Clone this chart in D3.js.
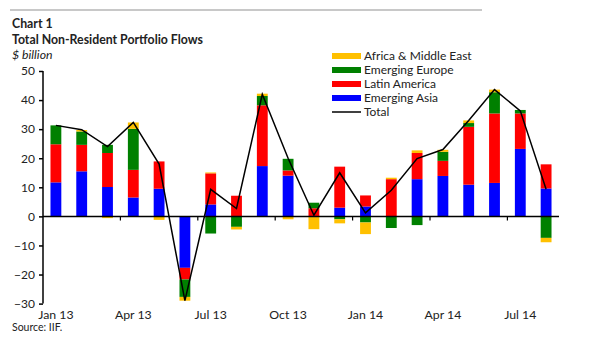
<!DOCTYPE html>
<head>
  <meta charset="utf-8">
  <script src="https://d3js.org/d3.v7.min.js"></script>
  <style>
    body { margin: 0; background: #fff; }
    text { font-family: Lato, "Open Sans", sans-serif; fill: #222; }
  </style>
</head>

<body>
  <svg width="600" height="340"></svg>

  <script>

  // month categories and tick labels
  var months = ["Jan 13","Feb 13","Mar 13","Apr 13","May 13","Jun 13","Jul 13","Aug 13","Sep 13","Oct 13",
    "Nov 13","Dec 13","Jan 14","Feb 14","Mar 14","Apr 14","May 14","Jun 14","Jul 14","Aug 14"];
  var tickMonths = ["Jan 13","Apr 13","Jul 13","Oct 13","Jan 14","Apr 14","Jul 14"];

  // $ billion
  var asia   = [11.7, 15.5, 10.1, 6.5, 9.5, -17.7, 4.1, 0, 17.3, 14.0, 0, 3.0, 3.4, 0, 12.8, 13.9, 10.9, 11.5, 23.2, 9.6];
  var latam  = [13.1, 9.1, 11.7, 9.5, 9.4, -4.0, 10.7, 7.1, 20.9, 1.8, 2.8, 14.1, 3.8, 12.8, 9.0, 5.2, 19.9, 23.9, 12.2, 8.3];
  var europe = [6.5, 4.6, 2.8, 14.1, 0, -6.0, -5.9, -3.6, 3.2, 4.0, 1.9, -1.0, -2.1, -4.0, -3.0, 3.1, 1.3, 7.3, 1.2, -7.4];
  var africa = [0, 0.5, -0.6, 2.2, -1.2, -1.3, 0.3, -0.9, 0.8, -1.0, -4.4, -1.4, -4.0, 0.5, 0.9, 0.7, 0.9, 0.9, 0, -1.5];
  var total  = [31.3, 29.8, 24.0, 32.3, 18.0, -29.0, 9.3, 2.7, 42.0, 20.0, 0.4, 15.0, 1.2, 9.0, 19.9, 23.0, 33.0, 43.6, 36.3, 9.3];

  var seriesKeys = ["asia", "latam", "europe", "africa"];
  var seriesNames = { africa: "Africa & Middle East", europe: "Emerging Europe", latam: "Latin America", asia: "Emerging Asia" };
  var color = { africa: "#ffc000", europe: "#008000", latam: "#ff0000", asia: "#0000ff" };

  var rows = months.map(function(m, i) {
    return { month: m, asia: asia[i], latam: latam[i], europe: europe[i], africa: africa[i], total: total[i] };
  });

  var svg = d3.select("svg");

  var x = d3.scaleBand()
    .domain(months)
    .range([43, 559])
    .paddingInner(0.58)
    .paddingOuter(0.29);

  var y = d3.scaleLinear()
    .domain([-30, 50])
    .range([303.6, 71]);

  // top rule
  svg.append("line")
    .attr("x1", 10).attr("x2", 482)
    .attr("y1", 10).attr("y2", 10)
    .attr("stroke", "#c8c8c8")
    .attr("stroke-width", 2);

  // titles
  svg.append("text").attr("x", 12).attr("y", 28)
    .style("font-size", "12.3px").style("font-weight", "bold").text("Chart 1");
  svg.append("text").attr("x", 12).attr("y", 43.5)
    .style("font-size", "12.3px").style("font-weight", "bold").text("Total Non-Resident Portfolio Flows");
  svg.append("text").attr("x", 12).attr("y", 59)
    .style("font-size", "12.3px").style("font-style", "italic").text("$ billion");

  // stacked bars
  var stack = d3.stack()
    .keys(seriesKeys)
    .offset(d3.stackOffsetDiverging);

  var layers = svg.append("g")
    .selectAll("g")
    .data(stack(rows))
    .enter().append("g")
    .attr("fill", function(d) { return color[d.key]; });

  layers.selectAll("rect")
    .data(function(d) { return d; })
    .enter().append("rect")
    .attr("x", function(d) { return x(d.data.month); })
    .attr("width", x.bandwidth())
    .attr("y", function(d) { return y(Math.max(d[0], d[1])); })
    .attr("height", function(d) { return Math.abs(y(d[0]) - y(d[1])); });

  // y axis
  var yAxis = svg.append("g")
    .attr("transform", "translate(43,0)")
    .call(d3.axisLeft(y).tickValues(d3.range(-30, 51, 10)).tickSize(4).tickPadding(4));
  yAxis.select(".domain").attr("stroke", "#000").attr("stroke-width", 1.5).attr("d", "M0," + y(-30) + "V" + y(50));
  yAxis.selectAll(".tick line").attr("stroke", "#000").attr("stroke-width", 1.5);
  yAxis.selectAll(".tick text")
    .style("font-family", "Lato, sans-serif").style("font-size", "12px").attr("fill", "#222");

  // zero line
  svg.append("line")
    .attr("x1", 43).attr("x2", 559)
    .attr("y1", y(0)).attr("y2", y(0))
    .attr("stroke", "#000")
    .attr("stroke-width", 1.5);

  // quarter ticks on the zero line
  var half = (x.step() - x.bandwidth()) / 2;
  svg.append("g").selectAll("line")
    .data(["Apr 13","Jul 13","Oct 13","Jan 14","Apr 14","Jul 14"])
    .enter().append("line")
    .attr("x1", function(d) { return x(d) - half; })
    .attr("x2", function(d) { return x(d) - half; })
    .attr("y1", y(0)).attr("y2", y(0) + 4)
    .attr("stroke", "#000")
    .attr("stroke-width", 1.2);

  // x labels
  svg.append("g").selectAll("text")
    .data(tickMonths)
    .enter().append("text")
    .attr("x", function(d) { return x(d) + x.bandwidth() / 2; })
    .attr("y", 319)
    .attr("text-anchor", "middle")
    .style("font-size", "12.3px")
    .text(function(d) { return d; });

  // total line
  var line = d3.line()
    .x(function(d) { return x(d.month) + x.bandwidth() / 2; })
    .y(function(d) { return y(d.total); });

  svg.append("path")
    .datum(rows)
    .attr("fill", "none")
    .attr("stroke", "#000")
    .attr("stroke-width", 1.5)
    .attr("d", line);

  // legend
  var legendKeys = ["africa", "europe", "latam", "asia"];
  var legend = svg.append("g").selectAll("g")
    .data(legendKeys.concat(["total"]))
    .enter().append("g")
    .attr("transform", function(d, i) { return "translate(332," + (56 + i * 14) + ")"; });

  legend.each(function(d) {
    var g = d3.select(this);
    if (d == "total") {
      g.append("line").attr("x1", 0).attr("x2", 29).attr("y1", 0).attr("y2", 0)
        .attr("stroke", "#000").attr("stroke-width", 1.5);
    } else {
      g.append("rect").attr("x", 0).attr("y", -3).attr("width", 29).attr("height", 6)
        .attr("fill", color[d]);
    }
  });

  legend.append("text")
    .attr("x", 32)
    .attr("y", 4)
    .style("font-size", "12px")
    .text(function(d) { return d == "total" ? "Total" : seriesNames[d]; });

  // source
  svg.append("text").attr("x", 12).attr("y", 331)
    .style("font-size", "10.5px").text("Source: IIF.");

  </script>
</body>
